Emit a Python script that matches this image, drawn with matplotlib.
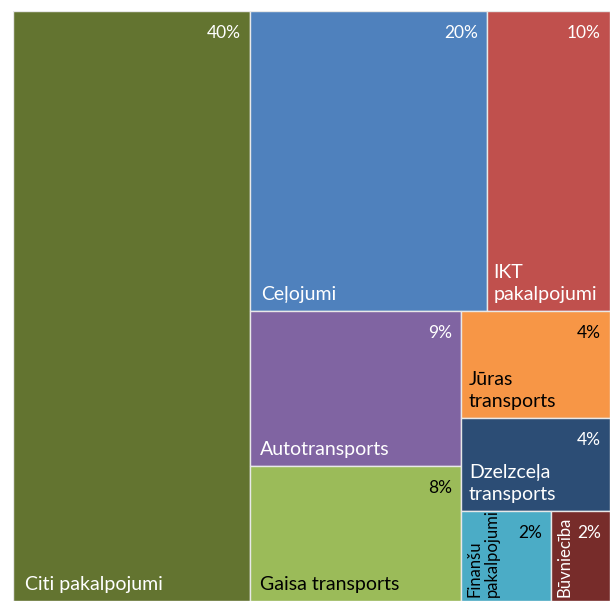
import matplotlib.pyplot as plt
from matplotlib.patches import Rectangle

plt.rcParams["font.family"] = ["Lato", "DejaVu Sans"]

names = [
    "Citi pakalpojumi", "Ceļojumi", "IKT\npakalpojumi", "Autotransports",
    "Gaisa transports", "Jūras\ntransports", "Dzelzceļa\ntransports",
    "Finanšu\npakalpojumi", "Būvniecība",
]
shares = [39.5, 20.2, 10.4, 9.3, 8.1, 4.5, 3.9, 2.3, 1.5]
colors = [
    "#637430", "#4F81BD", "#C0504D", "#8064A2", "#9BBB59",
    "#F79646", "#2C4D75", "#4BACC6", "#772C2A",
]
text_colors = ["white", "white", "white", "white", "black",
               "black", "white", "black", "white"]
# nesting of the treemap (indices into the lists above)
tree = [0, [[1, 2], [[3, 4], [5, 6, [7, 8]]]]]


def total(node):
    if isinstance(node, int):
        return shares[node]
    return sum(total(n) for n in node)


def layout(node, x, y, w, h, out):
    if isinstance(node, int):
        out[node] = (x, y, w, h)
        return
    s = total(node)
    for child in node:
        f = total(child) / s
        if w >= h:
            layout(child, x, y, w * f, h, out)
            x += w * f
        else:
            layout(child, x, y, w, h * f, out)
            y += h * f


W, H = 597, 590
fig = plt.figure(figsize=(6.11, 6.01), dpi=100)
ax = fig.add_axes([13 / 611, 0, W / 611, H / 601])
ax.set_xlim(0, W)
ax.set_ylim(H, 0)
ax.axis("off")

rects = {}
layout(tree, 0, 0, W, H, rects)

for i, (x, y, w, h) in rects.items():
    ax.add_patch(Rectangle((x, y), w, h, facecolor=colors[i],
                           edgecolor="#E8E8E8", linewidth=1))
    tc = text_colors[i]
    ax.text(x + w - 9, y + 22, f"{shares[i]:.0f}%", color=tc,
            ha="right", va="center", fontsize=12.5)
    if w < 0.16 * W:
        ax.text(x + 5, y + h - 4, names[i], color=tc, rotation=90,
                ha="left", va="bottom", fontsize=12, linespacing=1.1)
    else:
        pad = min(14, 0.05 * w)
        ax.text(x + pad, y + h - 8, names[i], color=tc,
                ha="left", va="bottom", fontsize=14, linespacing=1.35)

fig.savefig("out.png", dpi=100)
